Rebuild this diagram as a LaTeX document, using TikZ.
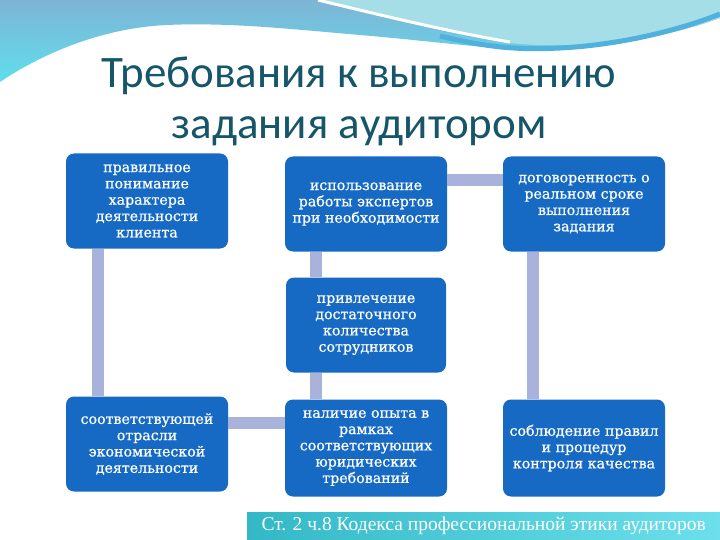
\documentclass[tikz,border=0pt]{standalone}
\usepackage{fontspec}
\setmainfont{DejaVu Serif}
\newfontfamily\cajafont{DejaVu Serif}[FakeBold=0.7]
\newfontfamily\titfont{Carlito}
\newfontfamily\piefont{Liberation Serif}
\usetikzlibrary{calc}
\definecolor{azulcaja}{RGB}{22,106,196}
\definecolor{grisenlace}{RGB}{168,178,218}
\definecolor{tealtitulo}{RGB}{22,86,106}
\definecolor{olaarriba}{RGB}{126,180,214}
\definecolor{olaabajo}{RGB}{96,222,236}
\definecolor{cianclaro}{RGB}{166,222,232}
\definecolor{azulola}{RGB}{80,178,220}
\definecolor{pieizq}{RGB}{52,184,198}
\definecolor{pieder}{RGB}{108,224,236}

\begin{document}
\begin{tikzpicture}[x=1pt,y=-1pt,
  req/.style={fill=azulcaja,rounded corners=8pt,text=white,align=center,
    minimum width=162pt,minimum height=95pt,inner sep=0pt,
    font=\cajafont\fontsize{14.2}{16.3}\selectfont},
  enlace/.style={draw=grisenlace,line width=12pt}]
  \useasboundingbox (0,0) rectangle (720,540);
  \fill[white] (0,0) rectangle (720,540);
  % ola de arriba
  \shade[top color=olaarriba,bottom color=olaabajo] (0,0) -- (0,82)
    .. controls (40,55) and (100,28) .. (167,25)
    .. controls (230,22) and (300,30) .. (360,35)
    .. controls (420,40) and (480,48) .. (520,49)
    .. controls (580,50) and (660,40) .. (720,18) -- (720,0) -- cycle;
  \fill[cianclaro] (320,0) .. controls (400,18) and (460,34) .. (508,43)
    .. controls (580,50) and (660,40) .. (720,18) -- (720,0) -- cycle;
  \draw[azulola,line width=5pt] (440,36) .. controls (490,48) and (520,50) .. (560,48)
    .. controls (620,45) and (680,30) .. (720,14);
  \draw[white,line width=3pt] (318,0) .. controls (380,15) and (450,32) .. (510,42);
  % titulo
  \node[font=\titfont\fontsize{45}{51}\selectfont,text=tealtitulo,align=center] (tit) at (359,101)
    {Требования к выполнению\\задания аудитором};
  % requisitos
  \node[req] (caracter) at (147,201) {правильное\\понимание\\характера\\деятельности\\клиента};
  \node[req] (expertos) at (366,204) {использование\\работы экспертов\\при необходимости};
  \node[req] (plazo) at (584,204) {договоренность о\\реальном сроке\\выполнения\\задания};
  \node[req,minimum width=160pt] (personal) at (366,325) {привлечение\\достаточного\\количества\\сотрудников};
  \node[req] (rama) at (147,444) {соответствующей\\отрасли\\экономической\\деятельности};
  \node[req,minimum height=97pt] (experiencia) at (366,448) {наличие опыта в\\рамках\\соответствующих\\юридических\\требований};
  \node[req,minimum height=97pt] (control) at (584,448) {соблюдение правил\\и процедур\\контроля качества};
  % enlaces
  \draw[enlace] ([xshift=32pt]caracter.south west) -- ([xshift=32pt]rama.north west);
  \draw[enlace] ([xshift=31pt]expertos.south west) -- ([xshift=31pt]expertos.south west |- personal.north);
  \draw[enlace] ([xshift=30pt]personal.south west) -- ([xshift=30pt]personal.south west |- experiencia.north);
  \draw[enlace] ([yshift=-24pt]expertos.north east) -- ([yshift=-24pt]expertos.north east -| plazo.west);
  \draw[enlace] ([xshift=30pt]plazo.south west) -- ([xshift=30pt]plazo.south west |- control.north);
  \draw[enlace] ([yshift=-27pt]rama.north east) -- ([yshift=-27pt]rama.north east -| experiencia.west);
  % pie
  \node[left color=pieizq,right color=pieder,text=white,anchor=north west,inner sep=0pt,
    minimum width=473pt,minimum height=28pt,font=\piefont\fontsize{19.5}{22}\selectfont] (pie) at (247,512)
    {Ст. 2 ч.8 Кодекса профессиональной этики аудиторов};
\end{tikzpicture}
\end{document}
